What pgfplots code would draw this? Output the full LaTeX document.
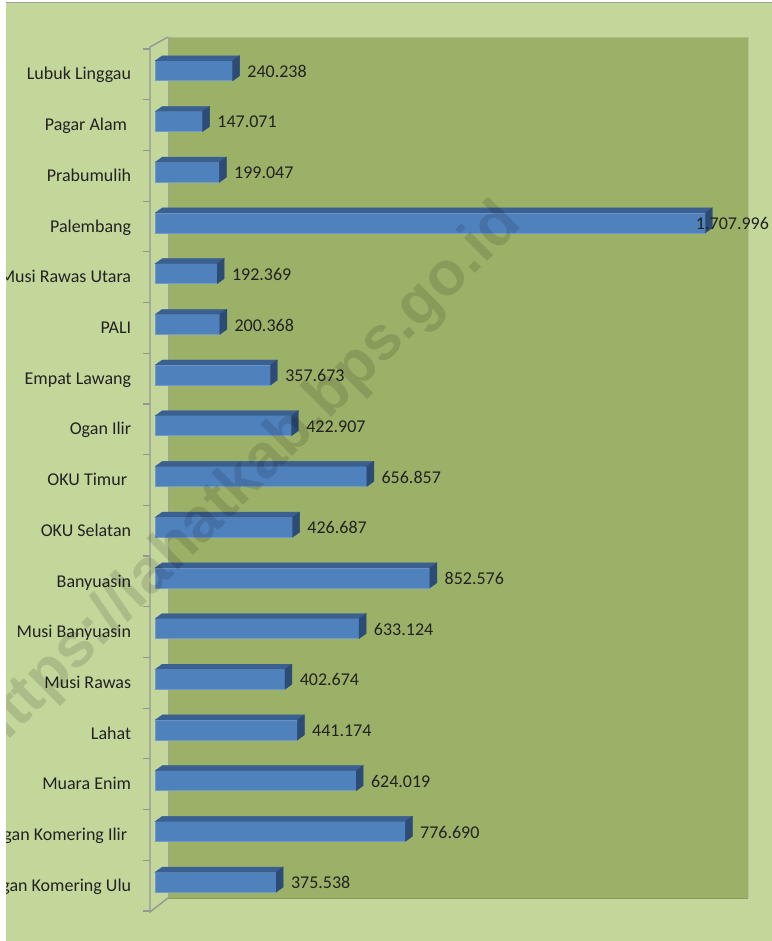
\documentclass[border=0pt]{standalone}
\usepackage{fontspec}
\setmainfont{Carlito}
\newfontfamily\wmfont{Liberation Sans}
\usepackage{pgfplots}
\pgfplotsset{compat=1.18}
\usepackage{pgfplotstable}

\definecolor{chartbg}{RGB}{196,215,155}
\definecolor{wallbg}{RGB}{156,177,104}
\definecolor{barfront}{RGB}{79,129,189}
\definecolor{bartop}{RGB}{58,95,145}
\definecolor{barside}{RGB}{44,75,117}
\definecolor{axisgray}{RGB}{150,150,150}
\definecolor{txt}{RGB}{34,34,34}

% values in thousands, listed bottom to top
\pgfplotstableread[col sep=comma]{
pos,name,val,lbl,dx
0,Ogan Komering Ulu,375.538,375.538,14.5
1,Ogan Komering Ilir\kern4bp,776.690,776.690,14.5
2,Muara Enim,624.019,624.019,14.5
3,Lahat,441.174,441.174,14.5
4,Musi Rawas,402.674,402.674,14.5
5,Musi Banyuasin,633.124,633.124,14.5
6,Banyuasin,852.576,852.576,14.5
7,OKU Selatan,426.687,426.687,14.5
8,OKU Timur\kern4bp,656.857,656.857,14.5
9,Ogan Ilir,422.907,422.907,14.5
10,Empat Lawang,357.673,357.673,14.5
11,PALI,200.368,200.368,14.5
12,Musi Rawas Utara,192.369,192.369,14.5
13,Palembang,1707.996,1.707.996,-9.6
14,Prabumulih,199.047,199.047,14.5
15,Pagar Alam\kern4bp,147.071,147.071,14.5
16,Lubuk Linggau,240.238,240.238,14.5
}\datatbl

\begin{document}
\begin{tikzpicture}
\fill[white] (0,0) rectangle (772bp,-941bp);
\begin{scope}
\clip (6bp,-2bp) rectangle (772bp,-941bp);
\fill[chartbg] (6bp,-2bp) rectangle (772bp,-941bp);
\draw[gray!75, line width=1.2bp] (6bp,-2.6bp) -- (772bp,-2.6bp);
% back wall
\fill[wallbg] (168bp,-37bp) rectangle (748bp,-898bp);
\draw[wallbg!88!black, line width=1bp] (168bp,-898bp) -- (748bp,-898bp);
\draw[wallbg!75!white, line width=1bp] (748bp,-37bp) -- (748bp,-898bp);
\draw[wallbg!85!white, line width=0.8bp] (168bp,-37bp) -- (748bp,-37bp);
% side wall and category ticks
\draw[axisgray!80!chartbg, line width=1bp] (168bp,-37bp) -- (168bp,-898bp);
\draw[axisgray, line width=1.4bp] (168bp,-37bp) -- (150bp,-47bp) -- (150bp,-912bp) -- (168bp,-898bp);
\foreach \k in {0,...,17}{
  \pgfmathsetmacro\yy{-(49+50.7*\k)}
  \draw[axisgray, line width=1.2bp] (143bp,\yy bp) -- (150bp,\yy bp);
}
\begin{axis}[
  at={(155.3bp,-907.4bp)}, anchor=south west,
  scale only axis, width=579.6bp, height=862bp,
  xmin=0, xmax=1800, ymin=-0.5, ymax=16.5,
  axis line style={draw=none},
  xtick=\empty,
  ytick={0,...,16},
  yticklabels from table={\datatbl}{name},
  major tick length=0pt,
  yticklabel style={anchor=base east, inner sep=0pt, xshift=-24bp, yshift=-9.2bp,
    font=\fontsize{18bp}{21bp}\selectfont, text=txt},
  clip=false,
]
% top and side faces of the 3D bars
\addplot[scatter, only marks, mark=*, mark size=0pt,
  mark options={draw=none, fill=none},
  visualization depends on={\thisrow{val} \as \barval},
  scatter/@pre marker code/.code={%
    \pgfmathsetmacro\L{-\barval*0.322}%
    \pgfmathsetmacro\Lb{7-\barval*0.322}%
    \fill[bartop] (\L bp,10bp) -- (0bp,10bp) -- (7bp,15bp) -- (\Lb bp,15bp) -- cycle;
    \fill[barside] (0bp,-10bp) -- (7bp,-5bp) -- (7bp,15bp) -- (0bp,10bp) -- cycle;
  },
  scatter/@post marker code/.code={},
] table[x=val, y=pos] {\datatbl};
% front faces with value labels
\addplot[xbar, bar width=20bp, fill=barfront, draw=barfront!80!white, line width=0.6bp,
  point meta=explicit symbolic,
  nodes near coords,
  visualization depends on={\thisrow{dx} \as \dx},
  every node near coord/.append style={anchor=west, inner sep=0pt, xshift=\dx bp,
    yshift=-0.7bp, font=\fontsize{18bp}{21bp}\selectfont, text=txt},
] table[x=val, y=pos, meta=lbl] {\datatbl};
\end{axis}
% watermark
\node[rotate=45, anchor=base, inner sep=0pt, text=black, opacity=0.12,
  font=\wmfont\bfseries\fontsize{62bp}{66bp}\selectfont] at (258bp,-491bp)
  {https://lahatkab.bps.go.id};
\end{scope}
\pgfresetboundingbox
\path[use as bounding box] (0,0) rectangle (772bp,-941bp);
\end{tikzpicture}
\end{document}
